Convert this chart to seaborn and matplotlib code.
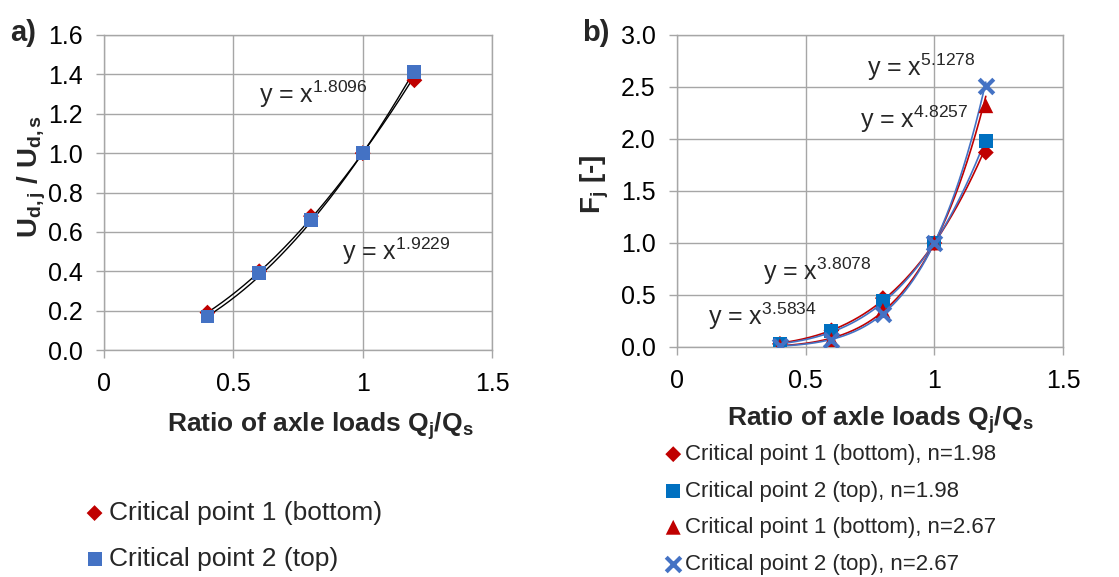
import numpy as np
import pandas as pd
import matplotlib
matplotlib.use("Agg")
import matplotlib.pyplot as plt
import seaborn as sns

# ---------------- data ----------------
ratio = [0.4, 0.6, 0.8, 1.0, 1.2]

# panel a)
a_cp1 = [0.19, 0.40, 0.68, 1.00, 1.37]
a_cp2 = [0.17, 0.39, 0.66, 1.00, 1.41]
a_exp = [1.8096, 1.9229]
a_labels = ["Critical point 1 (bottom)", "Critical point 2 (top)"]

# panel b)
b_cp1_198 = [0.03, 0.16, 0.47, 1.00, 1.87]
b_cp2_198 = [0.03, 0.15, 0.44, 1.00, 1.98]
b_cp1_267 = [0.01, 0.07, 0.35, 1.00, 2.32]
b_cp2_267 = [0.01, 0.07, 0.32, 1.00, 2.51]
b_exp = [3.5834, 3.8078, 4.8257, 5.1278]
b_labels = ["Critical point 1 (bottom), n=1.98",
            "Critical point 2 (top), n=1.98",
            "Critical point 1 (bottom), n=2.67",
            "Critical point 2 (top), n=2.67"]

x_ticks = [0, 0.5, 1, 1.5]
x_ticklabels = ["0", "0.5", "1", "1.5"]
a_yticks = [0.0, 0.2, 0.4, 0.6, 0.8, 1.0, 1.2, 1.4, 1.6]
b_yticks = [0.0, 0.5, 1.0, 1.5, 2.0, 2.5, 3.0]

# ---------------- style ----------------
sns.set_theme(style="whitegrid")
plt.rcParams["font.family"] = ["Liberation Sans", "DejaVu Sans"]
plt.rcParams["mathtext.default"] = "regular"
plt.rcParams["mathtext.fontset"] = "custom"
plt.rcParams["mathtext.rm"] = "Liberation Sans"
plt.rcParams["mathtext.it"] = "Liberation Sans:italic"
plt.rcParams["mathtext.bf"] = "Liberation Sans:bold"

GRID = "#A6A6A6"
RED = "#C00000"
BLUE_A = "#4472C4"
BLUE_B = "#0070C0"

W, H = 1119, 577
fig = plt.figure(figsize=(W / 100, H / 100), dpi=100)
fig.patch.set_facecolor("white")


def px_axes(l, t, r, b):
    return fig.add_axes([l / W, 1 - b / H, (r - l) / W, (b - t) / H])


axA = px_axes(104, 35, 492, 350)
axB = px_axes(677, 35, 1063, 347)

TICK_FS = 18
for ax in (axA, axB):
    ax.set_facecolor("white")
    ax.grid(True, color=GRID, linewidth=1.0)
    for s in ax.spines.values():
        s.set_color(GRID)
        s.set_linewidth(1.0)
    ax.tick_params(axis="both", which="major", direction="out", length=6,
                   width=1.0, color=GRID, labelsize=TICK_FS, pad=9.5,
                   labelcolor="black", bottom=True, left=True)
    ax.set_xlim(0, 1.5)
    ax.set_xticks(x_ticks)
    ax.set_xticklabels(x_ticklabels)
    ax.set_axisbelow(True)

# ---------------- panel a ----------------
xfit = np.linspace(min(ratio), max(ratio), 200)
for n in a_exp:
    sns.lineplot(x=xfit, y=xfit ** n, ax=axA, color="black", linewidth=1.0,
                 label="_nolegend_", zorder=3)
sns.scatterplot(x=ratio, y=a_cp1, ax=axA, marker="D", s=65, color=RED,
                edgecolor="none", label=a_labels[0], zorder=4)
sns.scatterplot(x=ratio, y=a_cp2, ax=axA, marker="s", s=100, color=BLUE_A,
                edgecolor="none", label=a_labels[1], zorder=5)
axA.set_ylim(0, 1.6)
axA.set_yticks(a_yticks)
axA.set_yticklabels([f"{v:.1f}" for v in a_yticks])

ANN_FS = 18
axA.text(0.60, 1.30, r"y = x$^{%.4f}$" % a_exp[0], fontsize=ANN_FS,
         va="center", ha="left", zorder=6)
axA.text(0.92, 0.50, r"y = x$^{%.4f}$" % a_exp[1], fontsize=ANN_FS,
         va="center", ha="left", zorder=6)

axA.set_xlabel(r"Ratio of axle loads Q$_j$/Q$_s$", fontsize=19,
               fontweight="bold")
axA.xaxis.set_label_coords(0.557, -0.19)
axA.set_ylabel(r"U$_{d,j}$ / U$_{d,s}$", fontsize=20, fontweight="bold")
axA.yaxis.set_label_coords(-0.145, 0.55)

hA, lA = axA.get_legend_handles_labels()
axA.legend(hA, lA, loc="upper left", bbox_to_anchor=(84 / W, 1 - 501 / H),
           bbox_transform=fig.transFigure, frameon=False, fontsize=19,
           borderpad=0, borderaxespad=0, handlelength=0.8,
           handletextpad=0.15, labelspacing=0.82, scatterpoints=1)

# ---------------- panel b ----------------
b_series = [b_cp1_198, b_cp2_198, b_cp1_267, b_cp2_267]
b_line_colors = [RED, BLUE_A, RED, BLUE_A]
for n, c in zip(b_exp, b_line_colors):
    sns.lineplot(x=xfit, y=xfit ** n, ax=axB, color=c, linewidth=1.2,
                 label="_nolegend_", zorder=3)
sns.scatterplot(x=ratio, y=b_series[0], ax=axB, marker="D", s=65, color=RED,
                edgecolor="none", label=b_labels[0], zorder=4)
sns.scatterplot(x=ratio, y=b_series[1], ax=axB, marker="s", s=100,
                color=BLUE_B, edgecolor="none", label=b_labels[1], zorder=5)
sns.scatterplot(x=ratio, y=b_series[2], ax=axB, marker="^", s=115,
                color=RED, edgecolor="none", label=b_labels[2], zorder=6)
sns.scatterplot(x=ratio, y=b_series[3], ax=axB, marker="x", s=110,
                color=BLUE_A, linewidth=3, label=b_labels[3], zorder=7)
axB.set_ylim(0, 3.0)
axB.set_yticks(b_yticks)
axB.set_yticklabels([f"{v:.1f}" for v in b_yticks])

axB.text(0.737, 2.69, r"y = x$^{%.4f}$" % b_exp[3], fontsize=ANN_FS,
         va="center", ha="left", zorder=8)
axB.text(0.711, 2.19, r"y = x$^{%.4f}$" % b_exp[2], fontsize=ANN_FS,
         va="center", ha="left", zorder=8)
axB.text(0.335, 0.73, r"y = x$^{%.4f}$" % b_exp[1], fontsize=ANN_FS,
         va="center", ha="left", zorder=8)
axB.text(0.119, 0.30, r"y = x$^{%.4f}$" % b_exp[0], fontsize=ANN_FS,
         va="center", ha="left", zorder=8)

axB.set_xlabel(r"Ratio of axle loads Q$_j$/Q$_s$", fontsize=19,
               fontweight="bold")
axB.xaxis.set_label_coords(0.526, -0.185)
axB.set_ylabel(r"F$_j$ [-]", fontsize=20, fontweight="bold")
axB.yaxis.set_label_coords(-0.17, 0.52)

hB, lB = axB.get_legend_handles_labels()
axB.legend(hB, lB, loc="upper left", bbox_to_anchor=(666 / W, 1 - 444 / H),
           bbox_transform=fig.transFigure, frameon=False, fontsize=16,
           borderpad=0, borderaxespad=0, handlelength=0.65,
           handletextpad=0.2, labelspacing=0.7, scatterpoints=1)

# panel letters
fig.text(10 / W, 1 - 33 / H, "a)", fontsize=21, fontweight="bold",
         ha="left", va="center")
fig.text(582 / W, 1 - 33 / H, "b)", fontsize=21, fontweight="bold",
         ha="left", va="center")

fig.savefig("out.png", dpi=100, facecolor="white")
